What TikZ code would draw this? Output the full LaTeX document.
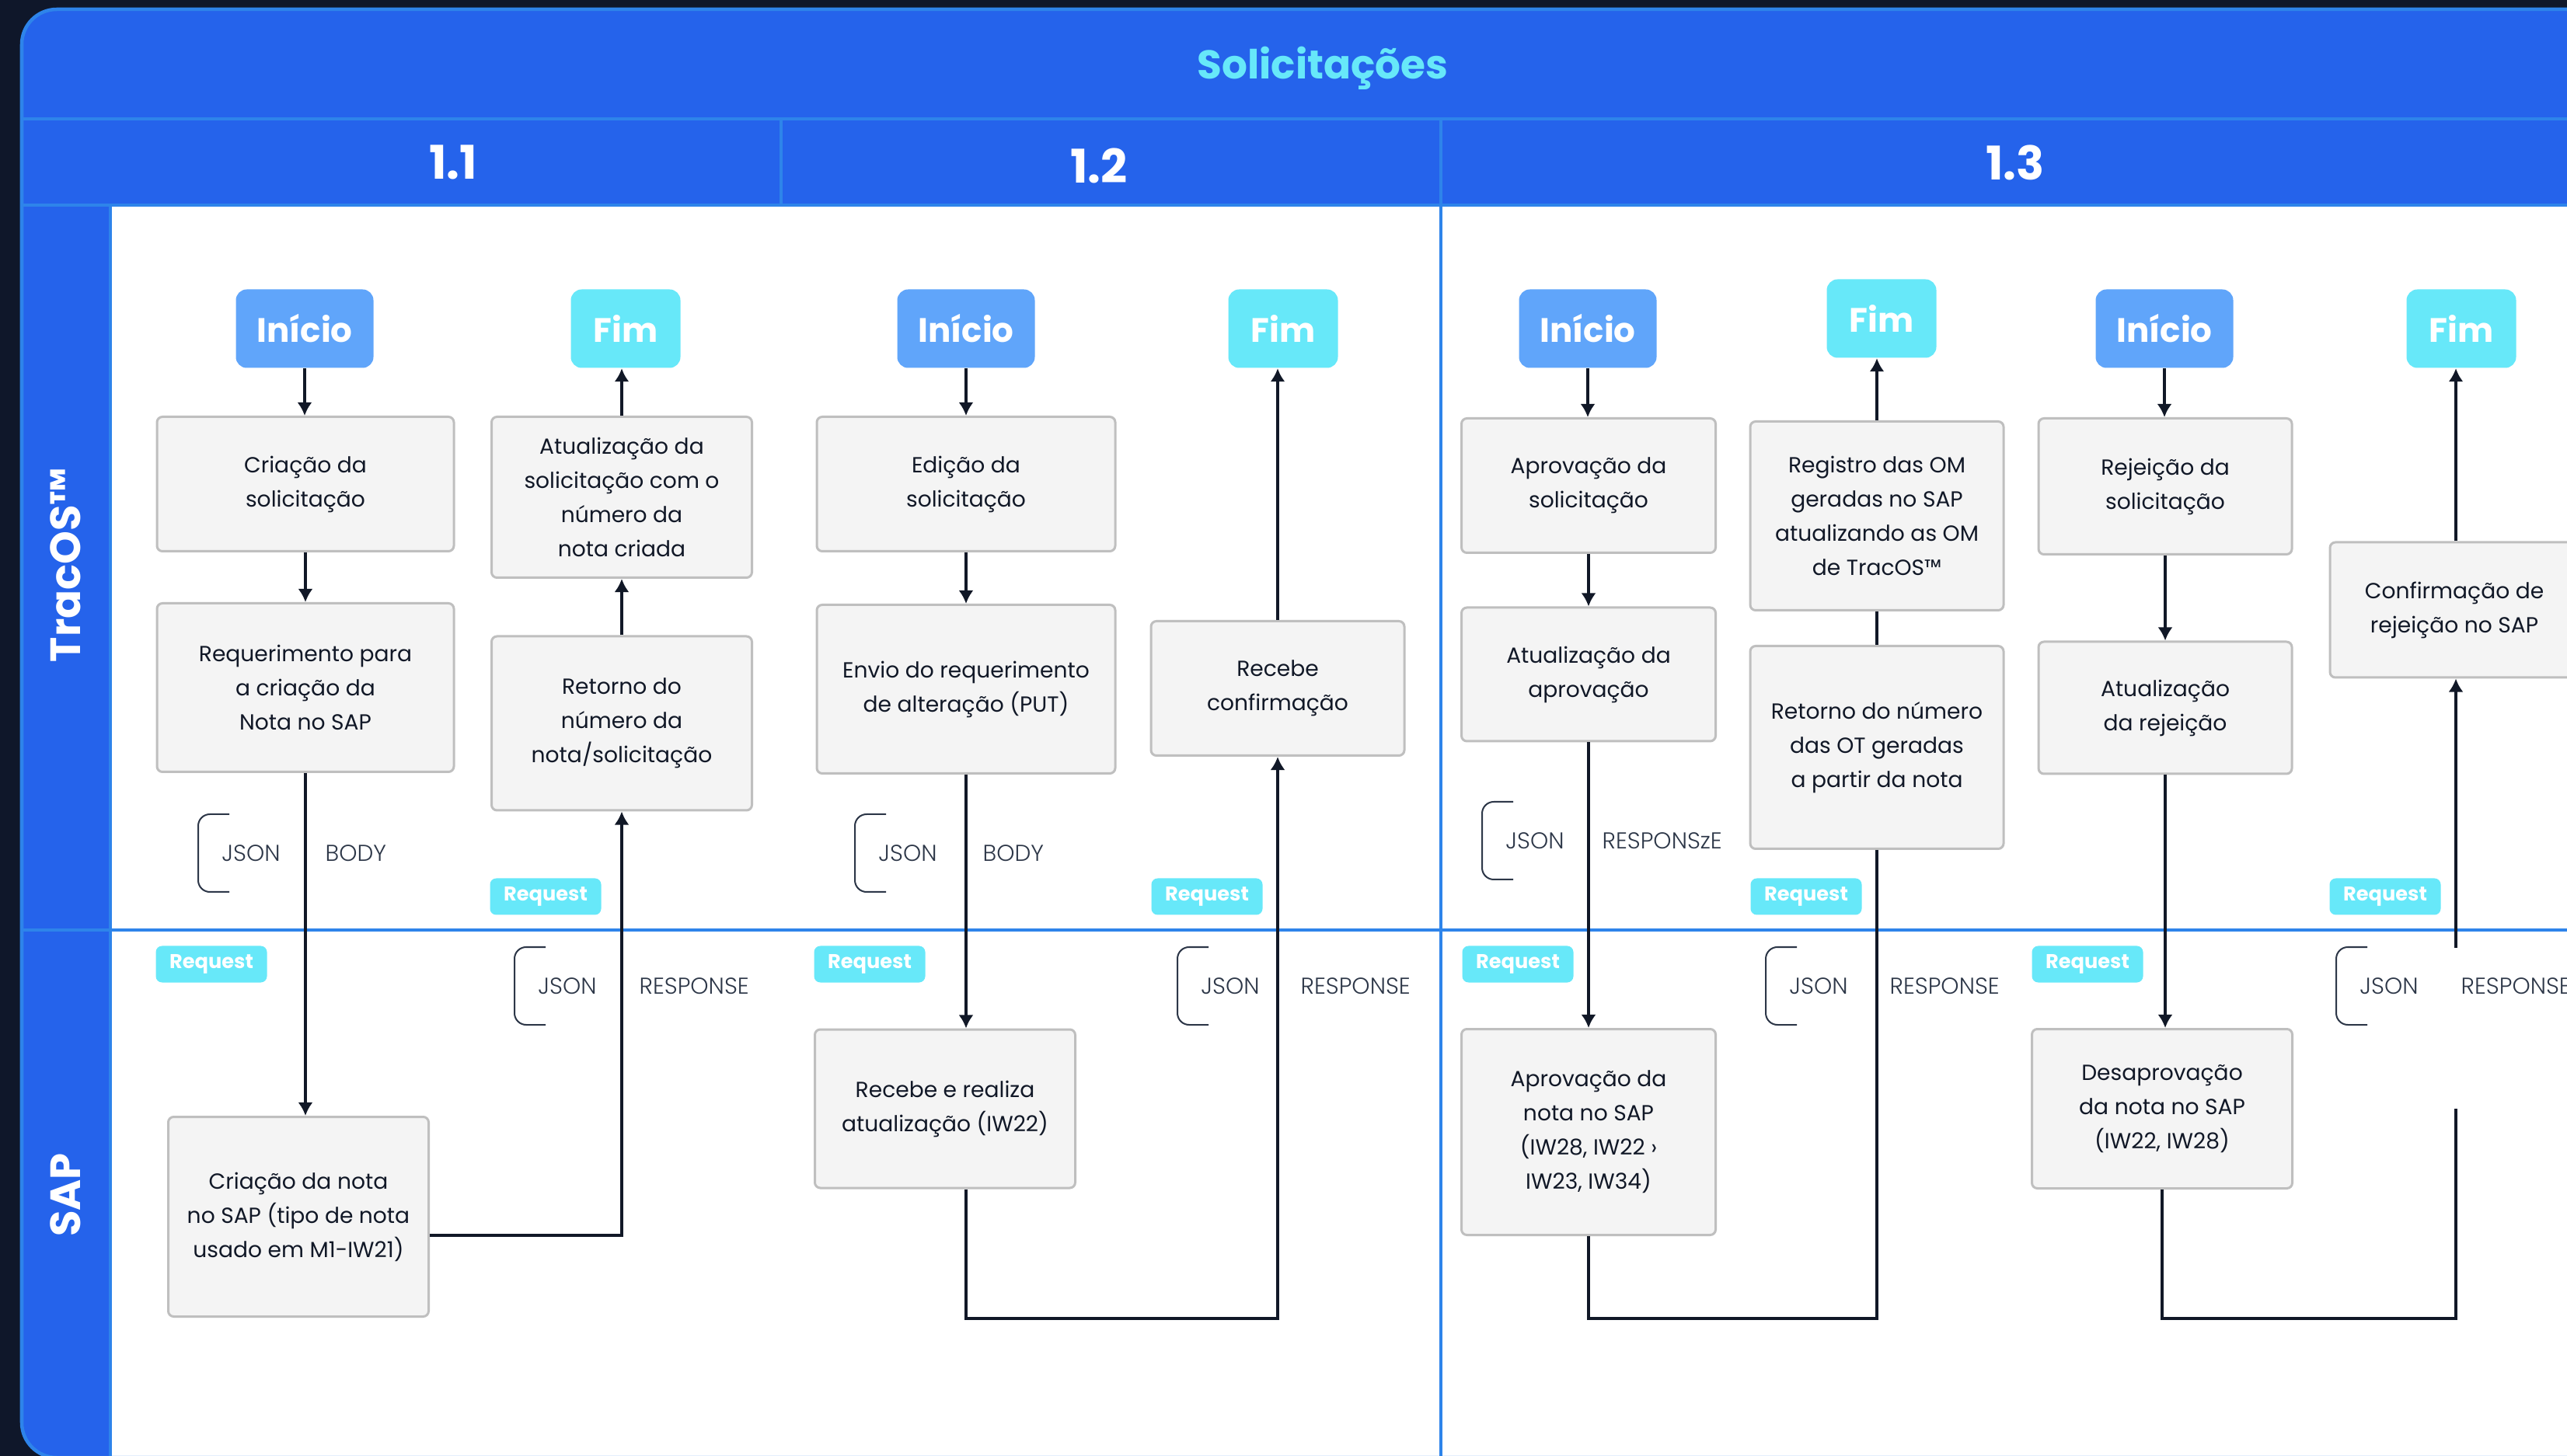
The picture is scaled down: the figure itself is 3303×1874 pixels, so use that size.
\documentclass[tikz,border=0pt]{standalone}
\usepackage{fontspec}
\setmainfont{Poppins}
\IfFontExistsTF{Poppins Light}{\newfontfamily\lightfont{Poppins Light}}{\newfontfamily\lightfont{Poppins}}
\usetikzlibrary{arrows.meta, positioning, calc}

\definecolor{night}{HTML}{0F172A}
\definecolor{band}{HTML}{2563EB}
\definecolor{rule}{HTML}{2E84EA}
\definecolor{iniblue}{HTML}{60A5FA}
\definecolor{fimcyan}{HTML}{67E8F9}
\definecolor{boxfill}{HTML}{F4F4F4}
\definecolor{boxline}{HTML}{BFBFBF}
\definecolor{ink}{HTML}{111827}
\definecolor{jsongray}{HTML}{2D3748}

\begin{document}
\begin{tikzpicture}[x=0.01cm, y=-0.01cm,
  every node/.style={inner sep=0pt},
  sz/.style 2 args={minimum width=#1*0.01cm, minimum height=#2*0.01cm},
  proc/.style={draw=boxline, fill=boxfill, line width=0.03cm, rounded corners=0.07cm, align=center, text=ink, font=\fontsize{8}{12.5}\selectfont},
  ini/.style={fill=iniblue, rounded corners=0.14cm, sz={177}{101}, text=white, font=\bfseries\fontsize{12.4}{14}\selectfont},
  fim/.style={fill=fimcyan, rounded corners=0.14cm, sz={141}{101}, text=white, font=\bfseries\fontsize{12.4}{14}\selectfont},
  rq/.style={fill=fimcyan, rounded corners=0.08cm, sz={143}{47}, text=white, font=\bfseries\fontsize{7.3}{9}\selectfont},
  arr/.style={draw=ink, line width=0.04cm, -{Latex[length=0.17cm, width=0.19cm]}},
  wire/.style={draw=ink, line width=0.04cm},
  brk/.style={draw=jsongray, line width=0.02cm, rounded corners=0.15cm},
  tag/.style={text=jsongray, font=\lightfont\fontsize{8.4}{10}\selectfont},
  divider/.style={draw=rule, line width=0.045cm},
  head/.style={text=white, font=\bfseries\fontsize{17}{20}\selectfont},
  lane/.style={text=white, rotate=90, font=\bfseries\fontsize{15.5}{18}\selectfont}]
\useasboundingbox (0,0) rectangle (3303,1874);
\begin{scope}
\clip (0,0) rectangle (3303,1874);
% Frame and swimlanes
\fill[night] (0,0) rectangle (3303,1874);
\fill[band, rounded corners=0.45cm] (28,12) rectangle (3400,1876);
\fill[white] (142,264) rectangle (3400,1900);
\draw[divider, rounded corners=0.45cm] (28,12) rectangle (3400,1876);
\draw[divider] (28,153) -- (3303,153);
\draw[divider] (28,264) -- (3303,264);
\draw[divider] (142,264) -- (142,1874);
\draw[divider] (28,1197) -- (3303,1197);
\draw[divider] (1005,153) -- (1005,264);
\draw[divider] (1854,153) -- (1854,1874);
% Headers
\node[text=fimcyan, font=\bfseries\fontsize{14.7}{18}\selectfont] (title) at (1702,88) {Solicitações};
\node[head] (h11) at (583,209) {1.1};
\node[head] (h12) at (1414,213) {1.2};
\node[head] (h13) at (2593,209) {1.3};
\node[lane] (tracos) at (84,727) {TracOS™};
\node[lane] (sap) at (84,1538) {SAP};
% 1.1
\node[ini] (ini11) at (392,423) {Início};
\node[fim] (fim11) at (805,423) {Fim};
\node[proc, sz={382}{173}] (cri11) at (393,623) {Criação da\\solicitação};
\node[proc, sz={382}{217}] (req11) at (393,885) {Requerimento para\\a criação da\\Nota no SAP};
\node[proc, sz={335}{207}] (atu11) at (800,640) {Atualização da\\solicitação com o\\número da\\nota criada};
\node[proc, sz={335}{224}] (ret11) at (800,931) {Retorno do\\número da\\nota/solicitação};
\node[proc, sz={335}{257}] (nota11) at (384,1566) {Criação da nota\\no SAP (tipo de nota\\usado em M1-IW21)};
% 1.2
\node[ini] (ini12) at (1243,423) {Início};
\node[fim] (fim12) at (1651,423) {Fim};
\node[proc, sz={384}{173}] (edi12) at (1243,623) {Edição da\\solicitação};
\node[proc, sz={384}{217}] (env12) at (1243,887) {Envio do requerimento\\de alteração (PUT)};
\node[proc, sz={326}{173}] (conf12) at (1644,886) {Recebe\\confirmação};
\node[proc, sz={335}{204}] (rec12) at (1216,1427) {Recebe e realiza\\atualização (IW22)};
% 1.3
\node[ini] (ini13a) at (2043,423) {Início};
\node[fim] (fim13a) at (2421,410) {Fim};
\node[proc, sz={327}{173}] (apr13) at (2044,625) {Aprovação da\\solicitação};
\node[proc, sz={327}{172}] (atap13) at (2044,868) {Atualização da\\aprovação};
\node[proc, sz={326}{243}] (reg13) at (2415,664) {Registro das OM\\geradas no SAP\\atualizando as OM\\de TracOS™};
\node[proc, sz={326}{261}] (reto13) at (2415,962) {Retorno do número\\das OT geradas\\a partir da nota};
\node[proc, sz={327}{265}] (anota13) at (2044,1457) {Aprovação da\\nota no SAP\\(IW28, IW22 ›\\IW23, IW34)};
\node[ini] (ini13b) at (2785,423) {Início};
\node[fim] (fim13b) at (3167,423) {Fim};
\node[proc, sz={326}{175}] (rej13) at (2786,626) {Rejeição da\\solicitação};
\node[proc, sz={326}{170}] (atre13) at (2786,911) {Atualização\\da rejeição};
\node[proc, sz={320}{174}] (conf13) at (3158,785) {Confirmação de\\rejeição no SAP};
\node[proc, sz={335}{205}] (desap13) at (2782,1427) {Desaprovação\\da nota no SAP\\(IW22, IW28)};
% Request tags
\foreach \rx/\ry [count=\k] in {702/1154, 272/1241, 1553/1154, 1119/1241, 2324/1154, 1953/1241, 3069/1154, 2686/1241} {
  \node[rq] (rq\k) at (\rx,\ry) {Request};
}
% JSON brackets
\foreach \bx/\by/\wx/\word [count=\k] in {255/1048/418/BODY, 1100/1048/1264/BODY, 1907/1032/2061/RESPONSzE, 662/1219/822/RESPONSE, 1515/1219/1673/RESPONSE, 2272/1219/2431/RESPONSE, 3006/1219/3166/RESPONSE} {
  \draw[brk] (\bx+40,\by) -- (\bx,\by) -- (\bx,\by+100) -- (\bx+40,\by+100);
  \node[tag] (json\k) at (\bx+68,\by+50) {JSON};
  \node[tag, anchor=west] (word\k) at (\wx,\by+50) {\word};
}
\coordinate (base) at (0,1697);
\coordinate (gapt) at (3160,1220);
\coordinate (gapb) at (3160,1427);
% Flow 1.1
\draw[arr] (ini11.south) -- (ini11.south |- cri11.north);
\draw[arr] (cri11.south) -- (cri11.south |- req11.north);
\draw[arr] (req11.south) -- (req11.south |- nota11.north);
\draw[arr] ([yshift=-0.24cm]nota11.east) -| (ret11.south);
\draw[arr] (ret11.north) -- (ret11.north |- atu11.south);
\draw[arr] (atu11.north) -- (atu11.north |- fim11.south);
% Flow 1.2
\draw[arr] (ini12.south) -- (ini12.south |- edi12.north);
\draw[arr] (edi12.south) -- (edi12.south |- env12.north);
\draw[arr] (env12.south) -- (env12.south |- rec12.north);
\draw[arr] (env12.south |- rec12.south) -- (env12.south |- base) -| (conf12.south);
\draw[arr] (conf12.north) -- (conf12.north |- fim12.south);
% Flow 1.3
\draw[arr] (ini13a.south) -- (ini13a.south |- apr13.north);
\draw[arr] (apr13.south) -- (apr13.south |- atap13.north);
\draw[arr] (atap13.south) -- (atap13.south |- anota13.north);
\draw[wire] (anota13.south) -- (anota13.south |- base) -| (reto13.south);
\draw[wire] (reto13.north) -- (reto13.north |- reg13.south);
\draw[arr] (reg13.north) -- (reg13.north |- fim13a.south);
\draw[arr] (ini13b.south) -- (ini13b.south |- rej13.north);
\draw[arr] (rej13.south) -- (rej13.south |- atre13.north);
\draw[arr] (atre13.south) -- (atre13.south |- desap13.north);
\draw[wire] (desap13.south) -- (desap13.south |- base) -| (gapb);
\draw[arr] (gapt) -- (gapt |- conf13.south);
\draw[arr] (gapt |- conf13.north) -- (gapt |- fim13b.south);
\end{scope}
\end{tikzpicture}
\end{document}
